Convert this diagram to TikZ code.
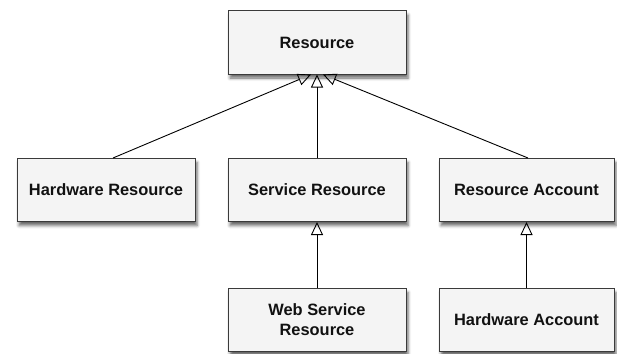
\documentclass[tikz,border=0pt]{standalone}
\usepackage{fontspec}
\setmainfont{Liberation Sans}
\usetikzlibrary{arrows.meta,shadows.blur}
\definecolor{boxfill}{HTML}{F4F4F4}
\definecolor{boxline}{HTML}{3A3A3A}
\definecolor{txt}{HTML}{111111}
\tikzset{
  classbox/.style={draw=boxline, line width=1pt, fill=boxfill,
    minimum width=178pt, minimum height=63pt, inner sep=0pt,
    font=\fontsize{16.4}{20}\selectfont\bfseries, text=txt, align=center,
    blur shadow={shadow xshift=2pt, shadow yshift=-4pt, shadow blur radius=3pt, shadow opacity=60}},
  inherit/.style={draw=black, line width=0.9pt,
    -{Triangle[open, length=13pt, width=12pt, line width=0.9pt]}}
}
\begin{document}
\begin{tikzpicture}[x=1pt,y=-1pt]
\useasboundingbox (0,0) rectangle (617,353);
\node[classbox] (res) at (317,42.5) {Resource};
\node[classbox] (hwr) at (106,190) {Hardware Resource};
\node[classbox] (svr) at (317,190) {Service Resource};
\node[classbox, minimum width=175pt] (rac) at (526.5,190) {Resource Account};
\node[classbox] (wsr) at (317,320) {Web Service\\Resource};
\node[classbox, minimum width=175pt] (hwa) at (526.5,320) {Hardware Account};
\coordinate (resL) at ([xshift=-6pt]res.south);
\coordinate (resR) at ([xshift=6pt]res.south);
\coordinate (hwrT) at ([xshift=7pt]hwr.north);
\coordinate (racT) at ([xshift=1.5pt]rac.north);
\draw[inherit] (hwrT) -- (resL);
\draw[inherit] (svr.north) -- (res.south);
\draw[inherit] (racT) -- (resR);
\draw[inherit] (wsr.north) -- (svr.south);
\draw[inherit] (hwa.north) -- (rac.south);
\end{tikzpicture}
\end{document}
